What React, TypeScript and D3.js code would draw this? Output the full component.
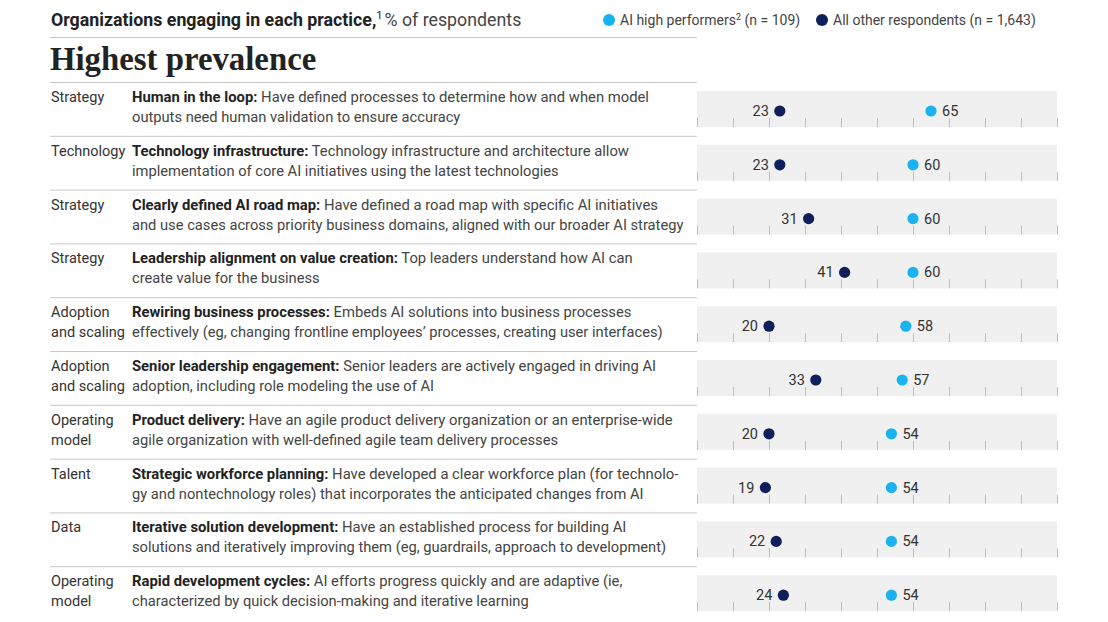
import React from "react";
import * as d3 from "d3";

const categories: string[][] = [
  ["Strategy"],
  ["Technology"],
  ["Strategy"],
  ["Strategy"],
  ["Adoption", "and scaling"],
  ["Adoption", "and scaling"],
  ["Operating", "model"],
  ["Talent"],
  ["Data"],
  ["Operating", "model"],
];

const practiceTitles: string[] = [
  "Human in the loop:",
  "Technology infrastructure:",
  "Clearly defined AI road map:",
  "Leadership alignment on value creation:",
  "Rewiring business processes:",
  "Senior leadership engagement:",
  "Product delivery:",
  "Strategic workforce planning:",
  "Iterative solution development:",
  "Rapid development cycles:",
];

const practiceLine1: string[] = [
  " Have defined processes to determine how and when model",
  " Technology infrastructure and architecture allow",
  " Have defined a road map with specific AI initiatives",
  " Top leaders understand how AI can",
  " Embeds AI solutions into business processes",
  " Senior leaders are actively engaged in driving AI",
  " Have an agile product delivery organization or an enterprise-wide",
  " Have developed a clear workforce plan (for technolo-",
  " Have an established process for building AI",
  " AI efforts progress quickly and are adaptive (ie,",
];

const practiceLine2: string[] = [
  "outputs need human validation to ensure accuracy",
  "implementation of core AI initiatives using the latest technologies",
  "and use cases across priority business domains, aligned with our broader AI strategy",
  "create value for the business",
  "effectively (eg, changing frontline employees\u2019 processes, creating user interfaces)",
  "adoption, including role modeling the use of AI",
  "agile organization with well-defined agile team delivery processes",
  "gy and nontechnology roles) that incorporates the anticipated changes from AI",
  "solutions and iteratively improving them (eg, guardrails, approach to development)",
  "characterized by quick decision-making and iterative learning",
];

const highPerformers: number[] = [65, 60, 60, 60, 58, 57, 54, 54, 54, 54];
const allOthers: number[] = [23, 23, 31, 41, 20, 33, 20, 19, 22, 24];

const LIGHT = "#1AB2F0";
const DARK = "#0E1F5B";
const FONT = "Roboto, 'Noto Sans', sans-serif";

export default function App() {
  const W = 1108;
  const H = 622;
  const x = d3.scaleLinear().domain([0, 100]).range([697, 1057]);
  const ticks = x.ticks(10);
  const rowStep = 53.8;
  const firstSep = 82;
  const sepY = (i: number) => firstSep + i * rowStep;

  return (
    <svg
      width={W}
      height={H}
      style={{ position: "absolute", left: 0, top: 0, background: "#fff" }}
      fontFamily={FONT}
    >
      {/* header */}
      <text x={51} y={26} fontSize={17.8} fill="#222">
        <tspan fontWeight={700}>Organizations engaging in each practice,</tspan>
        <tspan fontSize={11} dy={-7}>1</tspan>
        <tspan dy={7} dx={2} fill="#444">% of respondents</tspan>
      </text>
      <line x1={50} x2={697} y1={37.5} y2={37.5} stroke="#c8c8c8" />

      {/* legend */}
      <circle cx={609} cy={20} r={6} fill={LIGHT} />
      <text x={620} y={25} fontSize={14} fill="#444">
        AI high performers<tspan fontSize={9} dy={-5}>2</tspan>
        <tspan dy={5}> (n = 109)</tspan>
      </text>
      <circle cx={822} cy={20} r={6} fill={DARK} />
      <text x={833} y={25} fontSize={14} fill="#444">
        All other respondents (n = 1,643)
      </text>

      <text
        x={50}
        y={70}
        fontSize={32.8}
        fontWeight={700}
        fontFamily="'Liberation Serif', 'DejaVu Serif', serif"
        fill="#222"
      >
        Highest prevalence
      </text>

      {highPerformers.map((hp, i) => {
        const s = sepY(i);
        const bandTop = s + 9;
        const bandH = 36;
        const cy = bandTop + 20;
        const other = allOthers[i];
        return (
          <g key={i}>
            <line x1={50} x2={697} y1={s + 0.5} y2={s + 0.5} stroke="#c8c8c8" />
            {categories[i].map((c, k) => (
              <text key={k} x={51} y={s + 20 + k * 20} fontSize={14.5} fill="#333">
                {c}
              </text>
            ))}
            <text x={132} y={s + 20} fontSize={14.8} fill="#444">
              <tspan fontWeight={700} fill="#222">{practiceTitles[i]}</tspan>
              <tspan>{practiceLine1[i]}</tspan>
            </text>
            <text x={132} y={s + 40} fontSize={14.7} fill="#444">
              {practiceLine2[i]}
            </text>
            <rect x={x(0)} y={bandTop} width={x(100) - x(0)} height={bandH} fill="#f0f0f0" />
            {ticks.map((t) => (
              <line
                key={t}
                x1={x(t) + 0.5}
                x2={x(t) + 0.5}
                y1={bandTop + 27}
                y2={bandTop + bandH}
                stroke="#bdbdbd"
              />
            ))}
            <circle cx={x(other)} cy={cy} r={5.6} fill={DARK} />
            <text x={x(other) - 11} y={cy + 5} fontSize={14.5} fill="#333" textAnchor="end">
              {other}
            </text>
            <circle cx={x(hp)} cy={cy} r={5.6} fill={LIGHT} />
            <text x={x(hp) + 11} y={cy + 5} fontSize={14.5} fill="#333">
              {hp}
            </text>
          </g>
        );
      })}
    </svg>
  );
}
